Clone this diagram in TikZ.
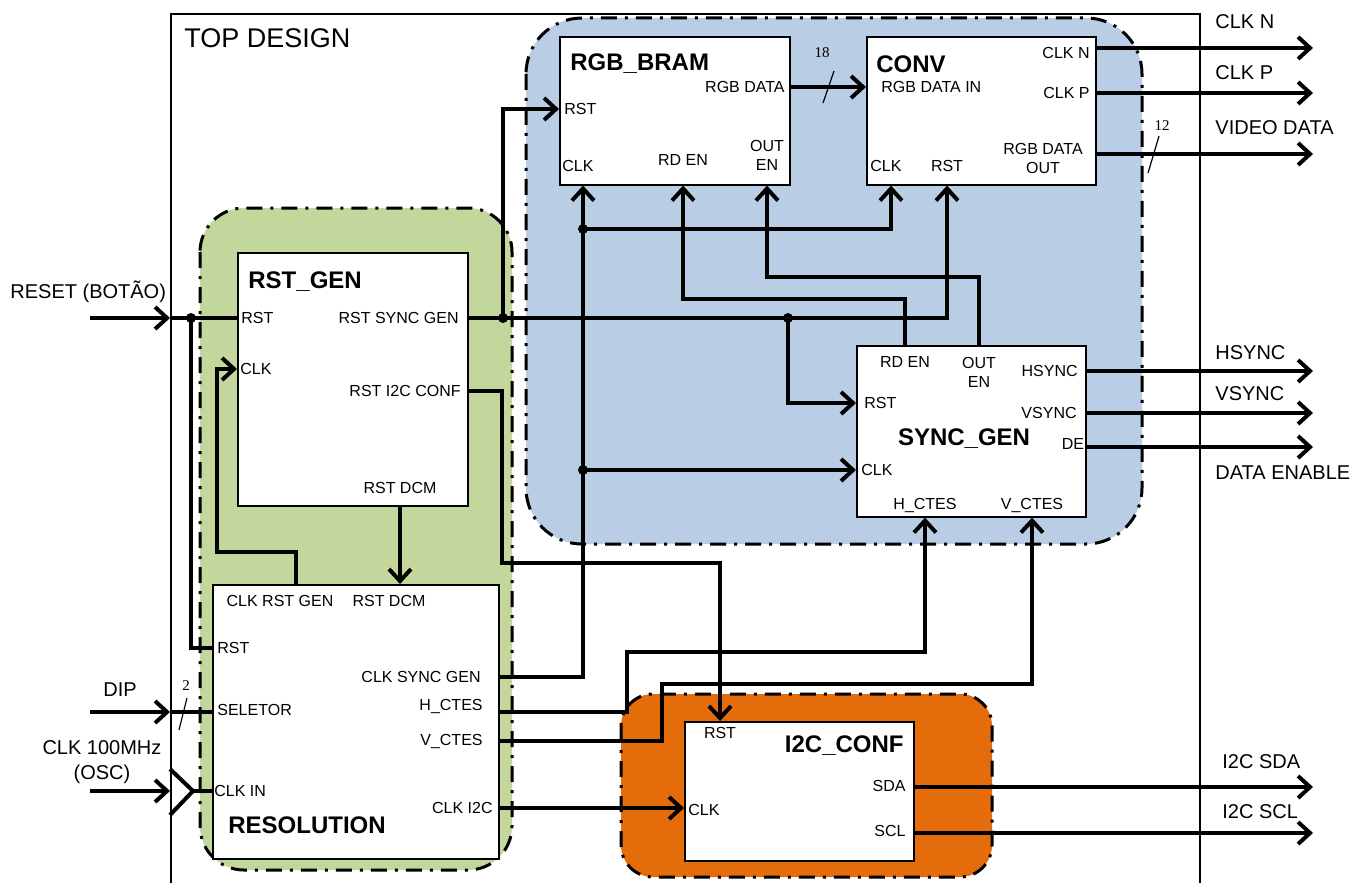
\documentclass[tikz,border=0pt]{standalone}
\usepackage{fontspec}
\setmainfont{Liberation Sans}
\newfontfamily\busfont{Liberation Serif}
\usetikzlibrary{arrows.meta,positioning,calc}

\definecolor{rstgreen}{RGB}{195,214,155}
\definecolor{vidblue}{RGB}{185,205,229}
\definecolor{i2corange}{RGB}{228,108,10}

\tikzset{
  blk/.style={draw, fill=white, line width=0.8pt, anchor=north west, inner sep=0pt},
  region/.style={line width=1.5pt, rounded corners=24pt, dash pattern=on 8pt off 4pt on 1.5pt off 4pt},
  wire/.style={line width=2pt},
  sig/.style={wire, -{Straight Barb[length=6pt,width=11pt]}},
  port/.style={font=\fontsize{8}{9.5}\selectfont, inner sep=0pt, align=center},
  ttl/.style={font=\fontsize{12}{14}\selectfont\bfseries, inner sep=0pt},
  ext/.style={font=\fontsize{10}{12.5}\selectfont, inner sep=0pt, align=center},
  jdot/.style={circle, fill, inner sep=0pt, minimum size=5pt},
  busmark/.style={line width=0.6pt},
  busnum/.style={font=\busfont\fontsize{7.5}{8}\selectfont, inner sep=0pt}
}

\begin{document}
\begin{tikzpicture}[x=0.5pt, y=-0.5pt]
\useasboundingbox (0,0) rectangle (1368,882);

% Top level frame
\node[draw, line width=1pt, anchor=north west, minimum width=514.5pt, minimum height=460pt] (top) at (170,13) {};
\node[font=\fontsize{13.5}{15}\selectfont, anchor=west, inner sep=0pt] (topname) at (184,38) {TOP DESIGN};

% Colored groups
\draw[region, fill=rstgreen, rounded corners=22pt] (200,208) rectangle (512,870);
\draw[region, fill=vidblue, rounded corners=28pt] (526,18) rectangle (1142,544);
\draw[region, fill=i2corange, rounded corners=16pt] (621,694) rectangle (992,877);

% Blocks
\node[blk, minimum width=115pt, minimum height=126.5pt] (rstgen) at (237,252) {};
\node[blk, minimum width=143pt, minimum height=137pt] (resol) at (212,584) {};
\node[blk, minimum width=115pt, minimum height=74pt] (bram) at (559,36) {};
\node[blk, minimum width=114.5pt, minimum height=74pt] (conv) at (866,36) {};
\node[blk, minimum width=114.5pt, minimum height=85.5pt] (sync) at (856,345) {};
\node[blk, minimum width=114.5pt, minimum height=69.5pt] (i2c) at (684,721) {};

% RST_GEN ports
\node[ttl, anchor=west] (rgname) at (248,282) {RST\_GEN};
\node[port, anchor=west] (rgrst) at (241,318) {RST};
\node[port, anchor=west] (rgclk) at (240,369) {CLK};
\node[port, anchor=east] (rgsync) at (459,318) {RST SYNC GEN};
\node[port, anchor=east] (rgi2c) at (461,391) {RST I2C CONF};
\node[port] (rgdcm) at (400,488) {RST DCM};

% RESOLUTION ports
\node[port] (resclkrg) at (280,601) {CLK RST GEN};
\node[port] (resdcm) at (389,601) {RST DCM};
\node[port, anchor=west] (resrst) at (217,648) {RST};
\node[port, anchor=west] (ressel) at (217,710) {SELETOR};
\node[port, anchor=west] (resclkin) at (214,791) {CLK IN};
\node[ttl, anchor=west] (resname) at (228,825) {RESOLUTION};
\node[port, anchor=east] (resclksync) at (481,677) {CLK SYNC GEN};
\node[port, anchor=east] (reshc) at (483,706) {H\_CTES};
\node[port, anchor=east] (resvc) at (483,741) {V\_CTES};
\node[port, anchor=east] (resclki2c) at (493,808) {CLK I2C};

% RGB_BRAM ports
\node[ttl, anchor=west] (brname) at (570,64) {RGB\_BRAM};
\node[port, anchor=west] (brrst) at (564,109) {RST};
\node[port, anchor=east] (brdata) at (785,87) {RGB DATA};
\node[port, anchor=west] (brclk) at (562,166) {CLK};
\node[port] (brrden) at (683,160) {RD EN};
\node[port] (broute) at (767,155) {OUT\\EN};

% CONV ports
\node[ttl, anchor=west] (cvname) at (876,64) {CONV};
\node[port, anchor=west] (cvdin) at (881,87) {RGB DATA IN};
\node[port, anchor=east] (cvclkn) at (1090,53) {CLK N};
\node[port, anchor=east] (cvclkp) at (1090,93) {CLK P};
\node[port] (cvdout) at (1043,158) {RGB DATA\\OUT};
\node[port, anchor=west] (cvclk) at (870,166) {CLK};
\node[port] (cvrst) at (947,166) {RST};

% SYNC_GEN ports
\node[ttl] (sgname) at (964,439) {SYNC\_GEN};
\node[port] (sgrden) at (905,362) {RD EN};
\node[port] (sgouten) at (979,372) {OUT\\EN};
\node[port, anchor=east] (sghs) at (1078,371) {HSYNC};
\node[port, anchor=west] (sgrst) at (864,403) {RST};
\node[port, anchor=east] (sgvs) at (1077,413) {VSYNC};
\node[port] (sgde) at (1073,444) {DE};
\node[port, anchor=west] (sgclk) at (861,470) {CLK};
\node[port] (sghc) at (925,505) {H\_CTES};
\node[port] (sgvc) at (1032,505) {V\_CTES};

% I2C_CONF ports
\node[ttl, anchor=east] (icname) at (904,746) {I2C\_CONF};
\node[port] (icrst) at (720,733) {RST};
\node[port, anchor=east] (icsda) at (906,786) {SDA};
\node[port, anchor=east] (icscl) at (906,831) {SCL};
\node[port, anchor=west] (icclk) at (688,810) {CLK};

% External pins
\node[ext, anchor=west] (lreset) at (10,292) {RESET (BOTÃO)};
\node[ext] (ldip) at (120,690) {DIP};
\node[ext] (losc) at (102,762) {CLK 100MHz\\(OSC)};
\node[ext, anchor=west] (lclkn) at (1215,22) {CLK N};
\node[ext, anchor=west] (lclkp) at (1215,73) {CLK P};
\node[ext, anchor=west] (lvideo) at (1215,128) {VIDEO DATA};
\node[ext, anchor=west] (lhs) at (1215,353) {HSYNC};
\node[ext, anchor=west] (lvs) at (1215,394) {VSYNC};
\node[ext, anchor=west] (lde) at (1215,473) {DATA ENABLE};
\node[ext, anchor=west] (lsda) at (1222,762) {I2C SDA};
\node[ext, anchor=west] (lscl) at (1222,812) {I2C SCL};

% Inputs
\coordinate (inreset) at (90,318);
\coordinate (indip) at (90,712);
\coordinate (inosc) at (90,791);
\coordinate (clkbuf) at (193,791);
\draw[sig] (inreset) -- (inreset -| top.west);
\draw[wire] (inreset -| top.west) -- (rgrst -| rstgen.west);
\draw[sig] (indip) -- (indip -| top.west);
\draw[wire] (indip -| top.west) -- (indip -| resol.west);
\draw[busmark] (179,730) -- (187,698);
\node[busnum] (ndip) at (186,686) {2};
\draw[sig] (inosc) -- (inosc -| top.west);
\draw[wire] (170,769) -- (clkbuf) -- (170,815);
\draw[wire] (clkbuf) -- (inosc -| resol.west);

% Reset distribution
\node[jdot] (jreset) at (191,318) {};
\draw[wire] (jreset.center) |- (resrst -| resol.west);
\draw[sig] (rgsync -| rstgen.east) -| (cvrst |- conv.south);
\node[jdot] (jbram) at (503,318) {};
\node[jdot] (jsync) at (788,318) {};
\draw[sig] (jbram.center) |- (brrst -| bram.west);
\draw[sig] (jsync.center) |- (sgrst -| sync.west);
\draw[sig] (rgi2c -| rstgen.east) -| (502,563) -| (icrst |- i2c.north);
\draw[sig] (rgdcm |- rstgen.south) -- (rgdcm |- resol.north);

% Clocks
\draw[sig] (resol.north -| 296,0) |- (217,552) |- (rgclk -| rstgen.west);
\node[jdot] (jclkcv) at (583,229) {};
\node[jdot] (jclksg) at (583,470) {};
\draw[sig] (resclksync -| resol.east) -| (jclkcv |- bram.south);
\draw[sig] (jclkcv.center) -| (conv.south -| 891,0);
\draw[sig] (jclksg.center) -- (sgclk -| sync.west);
\draw[sig] (resclki2c -| resol.east) -- (resclki2c -| i2c.west);

% Enables and constants
\draw[sig] (sgrden |- sync.north) |- (brrden |- 0,299) -- (brrden |- bram.south);
\draw[sig] (sgouten |- sync.north) |- (broute |- 0,277) -- (broute |- bram.south);
\draw[sig] (resol.east |- 0,712) -| (627,652) -| (sghc |- sync.south);
\draw[sig] (resvc -| resol.east) -| (662,684) -| (sgvc |- sync.south);

% Pixel data
\draw[sig] (brdata -| bram.east) -- (brdata -| conv.west);
\draw[busmark] (823,103) -- (834,71);
\node[busnum] (n18) at (822,53) {18};

% Outputs
\foreach \pin/\y/\blk in {oclkn/48/conv, oclkp/93/conv, ovideo/154/conv, ohs/371/sync, ovs/413/sync, ode/447/sync, osda/787/i2c, oscl/833/i2c}{
  \coordinate (\pin) at (1313,\y);
  \draw[sig] (\pin -| \blk.east) -- (\pin);
}
\draw[busmark] (1148,173) -- (1159,136);
\node[busnum] (n12) at (1162,126) {12};
\end{tikzpicture}
\end{document}
